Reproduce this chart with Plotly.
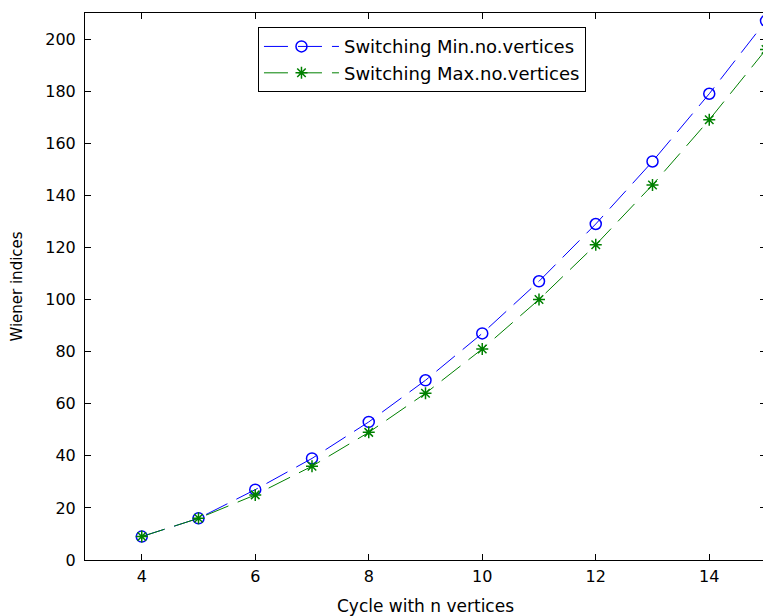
import plotly.graph_objects as go

n_vertices = [4, 5, 6, 7, 8, 9, 10, 11, 12, 13, 14, 15]
wiener_min = [9, 16, 27, 39, 53, 69, 87, 107, 129, 153, 179, 207]
wiener_max = [9, 16, 25, 36, 49, 64, 81, 100, 121, 144, 169, 196]

x_ticks = [4, 6, 8, 10, 12, 14]
y_ticks = [0, 20, 40, 60, 80, 100, 120, 140, 160, 180, 200]

FONT = "DejaVu Sans, Liberation Sans, Arial"

fig = go.Figure()
fig.add_trace(go.Scatter(
    x=n_vertices, y=wiener_min, mode="lines+markers",
    name="Switching Min.no.vertices", cliponaxis=False,
    line=dict(color="#0000ff", width=1, dash="24px,10px"),
    marker=dict(symbol="circle-open", size=11, color="#0000ff", line=dict(width=1.5)),
))
fig.add_trace(go.Scatter(
    x=n_vertices, y=wiener_max, mode="lines+markers",
    name="Switching Max.no.vertices", cliponaxis=False,
    line=dict(color="#008000", width=1, dash="24px,10px"),
    marker=dict(symbol="asterisk-open", size=10, color="#008000", line=dict(width=1.5, color="#008000")),
))

axis_common = dict(
    showline=True, linecolor="black", linewidth=1, mirror="ticks",
    ticks="inside", ticklen=6, tickcolor="black", showgrid=False, zeroline=False,
    automargin=False,
    tickfont=dict(family=FONT, size=16, color="black"),
)
fig.update_xaxes(range=[3, 15], tickvals=x_ticks, ticklabelstandoff=2,
                 title=dict(text="Cycle with n vertices", standoff=18,
                            font=dict(family=FONT, size=17, color="black")),
                 **axis_common)
fig.update_yaxes(range=[0, 210], tickvals=y_ticks, ticklabelstandoff=5,
                 title=dict(text="Wiener indices", standoff=23,
                            font=dict(family=FONT, size=15, color="black")),
                 **axis_common)

fig.update_layout(
    width=763, height=608,
    margin=dict(l=77, r=5, t=5, b=56),
    paper_bgcolor="white", plot_bgcolor="white",
    showlegend=True,
    legend=dict(x=0.254, y=0.974, xanchor="left", yanchor="top",
                bgcolor="white", bordercolor="black", borderwidth=1,
                font=dict(family=FONT, size=18, color="black"),
                itemwidth=75),
)

fig.write_html("out.html")
